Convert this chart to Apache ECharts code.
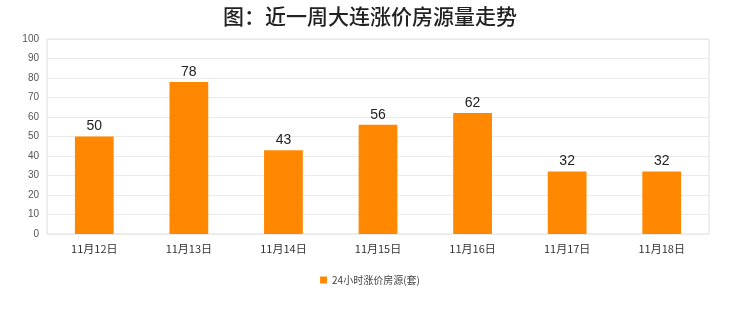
<!DOCTYPE html>
<html><head><meta charset="utf-8">
<script src="https://cdn.jsdelivr.net/npm/echarts@6/dist/echarts.min.js"></script>
<style>html,body{margin:0;padding:0;background:#fff}#c{width:740px;height:312px}</style>
</head><body><div id="c"></div>
<script>
var categories = ['11月12日','11月13日','11月14日','11月15日','11月16日','11月17日','11月18日'];
var values = [50, 78, 43, 56, 62, 32, 32];
var seriesName = '24小时涨价房源(套)';
var titleText = '图：近一周大连涨价房源量走势';

var chart = echarts.init(document.getElementById('c'), null, {renderer:'canvas'});
chart.setOption({
  animation:false,
  backgroundColor:'#fff',
  title:{text:titleText,left:'center',top:1,
    textStyle:{fontSize:21,fontWeight:500,color:'#222',fontFamily:'Noto Sans CJK SC'}},
  legend:{bottom:22,left:'center',itemWidth:7,itemHeight:7,icon:'rect',
    textStyle:{fontSize:10,color:'#444',fontFamily:'Noto Sans CJK SC'},data:[seriesName]},
  grid:{left:47,right:31,top:39,bottom:78,show:true,borderColor:'#ddd',borderWidth:1,backgroundColor:'#fff'},
  xAxis:{type:'category',data:categories,
    axisLine:{show:false},axisTick:{show:false},
    axisLabel:{fontSize:11,color:'#333',margin:9,fontFamily:'Noto Sans CJK SC'}},
  yAxis:{type:'value',min:0,max:100,interval:10,
    axisLine:{show:false},axisTick:{show:false},
    splitLine:{lineStyle:{color:'#eaeaea'}},
    axisLabel:{fontSize:10,color:'#555',margin:8}},
  series:[{name:seriesName,type:'bar',data:values,barWidth:'41%',
    itemStyle:{color:'#ff8800'},
    label:{show:true,position:'top',fontSize:14,color:'#222',distance:3}}]
});
</script></body></html>
